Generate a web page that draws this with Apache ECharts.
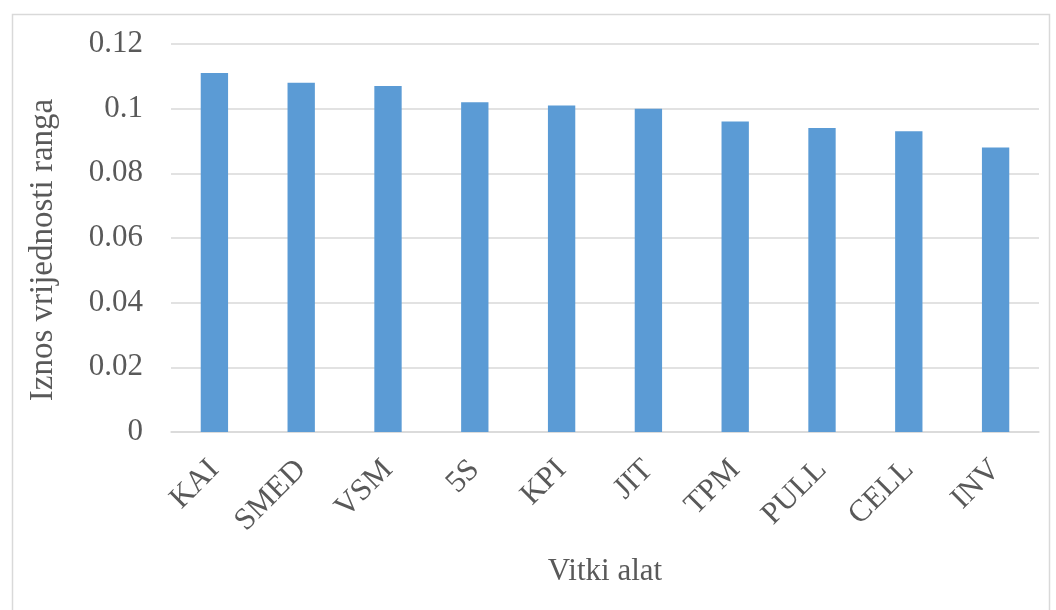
<!DOCTYPE html>
<html>
<head>
<meta charset="utf-8">
<script src="https://cdn.jsdelivr.net/npm/echarts@6/dist/echarts.min.js"></script>
<style>html,body{margin:0;padding:0;background:#fff}#c{width:1056px;height:610px}</style>
</head>
<body>
<div id="c"></div>
<script>
const categories = ['KAI', 'SMED', 'VSM', '5S', 'KPI', 'JIT', 'TPM', 'PULL', 'CELL', 'INV'];
const values = [0.111, 0.108, 0.107, 0.102, 0.101, 0.100, 0.096, 0.094, 0.093, 0.088];
const yAxisTitle = 'Iznos vrijednosti ranga';
const xAxisTitle = 'Vitki alat';

const font = '"Liberation Serif", "Times New Roman", serif';
const chart = echarts.init(document.getElementById('c'), null, {renderer: 'canvas'});
chart.setOption({
  animation: false,
  backgroundColor: '#ffffff',
  graphic: [{
    type: 'rect', left: 10, top: 12, shape: {width: 1037, height: 610},
    style: {fill: 'none', stroke: '#d9d9d9', lineWidth: 1.5}, silent: true
  }],
  grid: {left: 171, right: 17, top: 44, bottom: 178},
  xAxis: {
    type: 'category',
    data: categories,
    name: xAxisTitle,
    nameLocation: 'middle',
    nameGap: 124,
    nameTextStyle: {fontFamily: font, fontSize: 31, color: '#595959'},
    axisLine: {show: true, lineStyle: {color: '#d9d9d9', width: 1.5}},
    axisTick: {show: false},
    axisLabel: {rotate: 45, margin: 33, fontFamily: font, fontSize: 31, color: '#595959', interval: 0}
  },
  yAxis: {
    type: 'value',
    min: 0, max: 0.12, interval: 0.02,
    name: yAxisTitle,
    nameLocation: 'middle',
    nameGap: 111,
    nameTextStyle: {fontFamily: font, fontSize: 33, color: '#595959', padding: [0, 24, 0, 0]},
    axisLine: {show: false},
    axisTick: {show: false},
    splitLine: {lineStyle: {color: '#d9d9d9', width: 1.5}},
    axisLabel: {margin: 28, fontFamily: font, fontSize: 31, color: '#595959',
      formatter: v => String(parseFloat(v.toFixed(4)))}
  },
  series: [{
    type: 'bar',
    data: values,
    barWidth: '31.5%',
    itemStyle: {color: '#5b9bd5'}
  }]
});
</script>
</body>
</html>
